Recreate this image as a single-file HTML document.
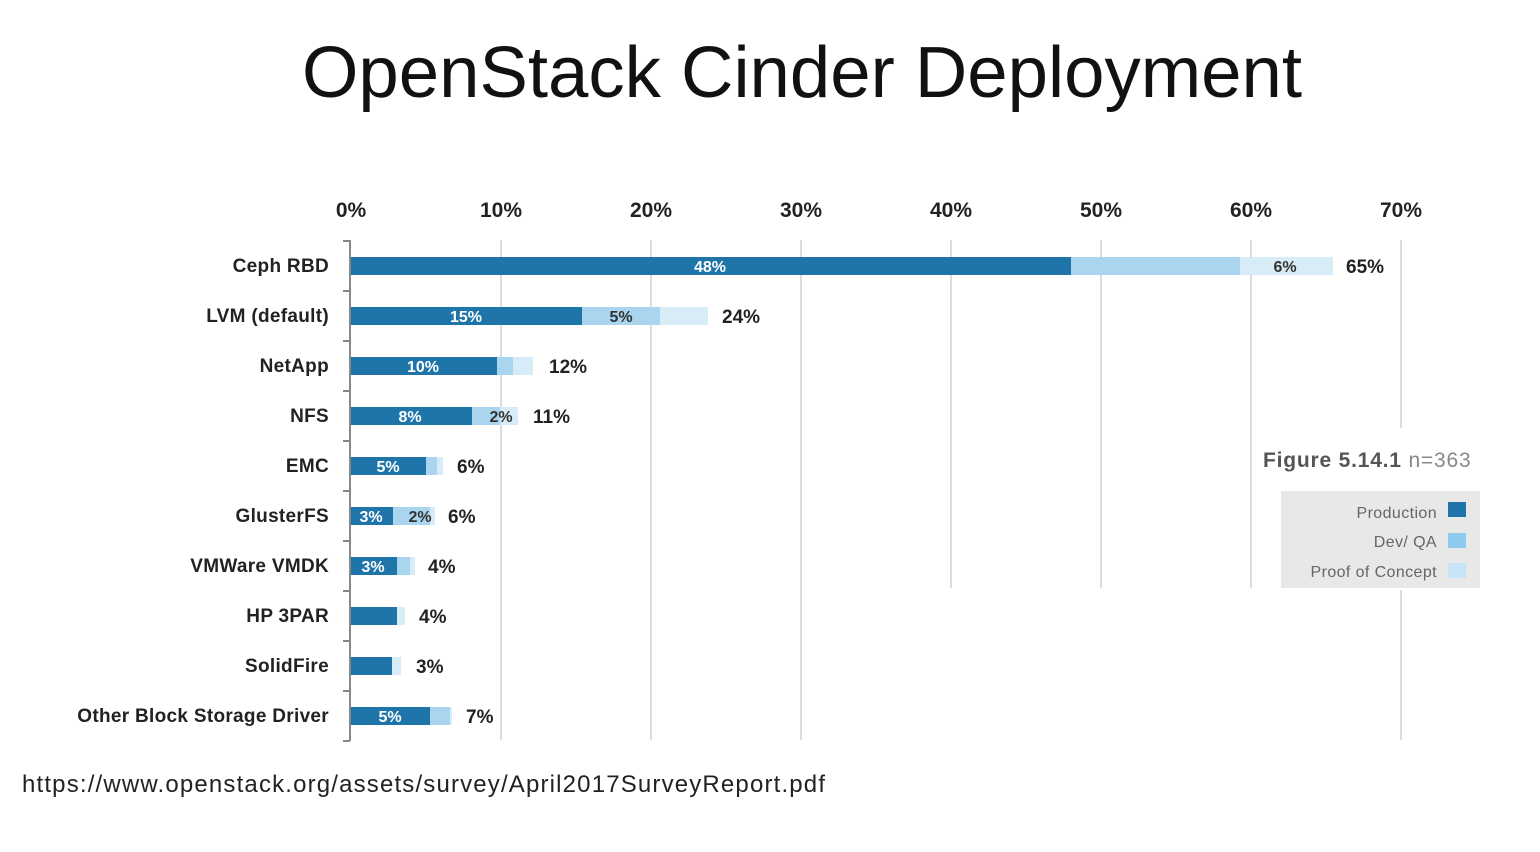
<!DOCTYPE html>
<html><head><meta charset="utf-8"><style>
html,body{margin:0;padding:0;background:#fff;}
svg{display:block;}
</style></head><body>
<svg width="1540" height="852" viewBox="0 0 1540 852" xmlns="http://www.w3.org/2000/svg" font-family="Liberation Sans, sans-serif">
<rect width="1540" height="852" fill="#fff"/>
<text x="802" y="97" font-size="72" text-anchor="middle" fill="#111" textLength="1000" lengthAdjust="spacingAndGlyphs">OpenStack Cinder Deployment</text>
<g font-size="21" font-weight="bold" fill="#222" text-anchor="middle">
<text x="351" y="217">0%</text><text x="501" y="217">10%</text><text x="651" y="217">20%</text><text x="801" y="217">30%</text><text x="951" y="217">40%</text><text x="1101" y="217">50%</text><text x="1251" y="217">60%</text><text x="1401" y="217">70%</text>
</g>
<g stroke="#ddd" stroke-width="2">
<line x1="501" y1="240" x2="501" y2="740"/><line x1="651" y1="240" x2="651" y2="740"/><line x1="801" y1="240" x2="801" y2="740"/><line x1="951" y1="240" x2="951" y2="588"/><line x1="1101" y1="240" x2="1101" y2="588"/><line x1="1251" y1="240" x2="1251" y2="588"/><line x1="1401" y1="240" x2="1401" y2="428"/><line x1="1401" y1="590" x2="1401" y2="740"/>
</g>
<g stroke="#888" stroke-width="2">
<line x1="350" y1="240" x2="350" y2="741"/>
<line x1="343" y1="241" x2="350" y2="241"/><line x1="343" y1="291" x2="350" y2="291"/><line x1="343" y1="341" x2="350" y2="341"/><line x1="343" y1="391" x2="350" y2="391"/><line x1="343" y1="441" x2="350" y2="441"/><line x1="343" y1="491" x2="350" y2="491"/><line x1="343" y1="541" x2="350" y2="541"/><line x1="343" y1="591" x2="350" y2="591"/><line x1="343" y1="641" x2="350" y2="641"/><line x1="343" y1="691" x2="350" y2="691"/><line x1="343" y1="741" x2="350" y2="741"/>
</g>
<g font-size="19" font-weight="bold" fill="#222" text-anchor="end" letter-spacing="0.3">
<text x="329" y="272">Ceph RBD</text><text x="329" y="322">LVM (default)</text><text x="329" y="372">NetApp</text><text x="329" y="422">NFS</text><text x="329" y="472">EMC</text><text x="329" y="522">GlusterFS</text><text x="329" y="572">VMWare VMDK</text><text x="329" y="622">HP 3PAR</text><text x="329" y="672">SolidFire</text><text x="329" y="722">Other Block Storage Driver</text>
</g>
<g>
<rect x="351" y="257" width="982" height="18" fill="#d8ecf7"/><rect x="351" y="257" width="889" height="18" fill="#a9d5ef"/><rect x="351" y="257" width="720" height="18" fill="#1f74a9"/>
<rect x="351" y="307" width="357" height="18" fill="#d8ecf7"/><rect x="351" y="307" width="309" height="18" fill="#a9d5ef"/><rect x="351" y="307" width="231" height="18" fill="#1f74a9"/>
<rect x="351" y="357" width="182" height="18" fill="#d8ecf7"/><rect x="351" y="357" width="162" height="18" fill="#a9d5ef"/><rect x="351" y="357" width="146" height="18" fill="#1f74a9"/>
<rect x="351" y="407" width="167" height="18" fill="#d8ecf7"/><rect x="351" y="407" width="149" height="18" fill="#a9d5ef"/><rect x="351" y="407" width="121" height="18" fill="#1f74a9"/>
<rect x="351" y="457" width="92" height="18" fill="#d8ecf7"/><rect x="351" y="457" width="86" height="18" fill="#a9d5ef"/><rect x="351" y="457" width="75" height="18" fill="#1f74a9"/>
<rect x="351" y="507" width="84" height="18" fill="#d8ecf7"/><rect x="351" y="507" width="79" height="18" fill="#a9d5ef"/><rect x="351" y="507" width="42" height="18" fill="#1f74a9"/>
<rect x="351" y="557" width="64" height="18" fill="#d8ecf7"/><rect x="351" y="557" width="59" height="18" fill="#a9d5ef"/><rect x="351" y="557" width="46" height="18" fill="#1f74a9"/>
<rect x="351" y="607" width="54" height="18" fill="#d8ecf7"/><rect x="351" y="607" width="46" height="18" fill="#1f74a9"/>
<rect x="351" y="657" width="50" height="18" fill="#d8ecf7"/><rect x="351" y="657" width="41" height="18" fill="#1f74a9"/>
<rect x="351" y="707" width="101" height="18" fill="#d8ecf7"/><rect x="351" y="707" width="99" height="18" fill="#a9d5ef"/><rect x="351" y="707" width="79" height="18" fill="#1f74a9"/>
</g>
<g font-size="16" font-weight="bold" fill="#fff" text-anchor="middle">
<text x="710" y="272">48%</text><text x="466" y="322">15%</text><text x="423" y="372">10%</text><text x="410" y="422">8%</text><text x="388" y="472">5%</text><text x="371" y="522">3%</text><text x="373" y="572">3%</text><text x="390" y="722">5%</text>
</g>
<g font-size="16" font-weight="bold" fill="#333" text-anchor="middle">
<text x="1285" y="272">6%</text><text x="621" y="322">5%</text><text x="501" y="422">2%</text><text x="420" y="522">2%</text>
</g>
<g font-size="19" font-weight="bold" fill="#222">
<text x="1346" y="273">65%</text><text x="722" y="323">24%</text><text x="549" y="373">12%</text><text x="533" y="423">11%</text><text x="457" y="473">6%</text><text x="448" y="523">6%</text><text x="428" y="573">4%</text><text x="419" y="623">4%</text><text x="416" y="673">3%</text><text x="466" y="723">7%</text>
</g>
<text x="1263" y="467" font-size="21" font-weight="bold" fill="#555" letter-spacing="0.8">Figure 5.14.1 <tspan font-weight="normal" fill="#888">n=363</tspan></text>
<rect x="1281" y="491" width="199" height="97" fill="#e8e8e8"/>
<g font-size="16" fill="#666" text-anchor="end" letter-spacing="0.4">
<text x="1437" y="518">Production</text><text x="1437" y="547">Dev/ QA</text><text x="1437" y="577">Proof of Concept</text>
</g>
<rect x="1448" y="502" width="18" height="15" fill="#1f74a9"/>
<rect x="1448" y="533" width="18" height="15" fill="#8ccaee"/>
<rect x="1448" y="563" width="18" height="15" fill="#c6e4f5"/>
<text x="22" y="792" font-size="24" fill="#222" textLength="803" lengthAdjust="spacing">https://www.openstack.org/assets/survey/April2017SurveyReport.pdf</text>
</svg>
</body></html>
